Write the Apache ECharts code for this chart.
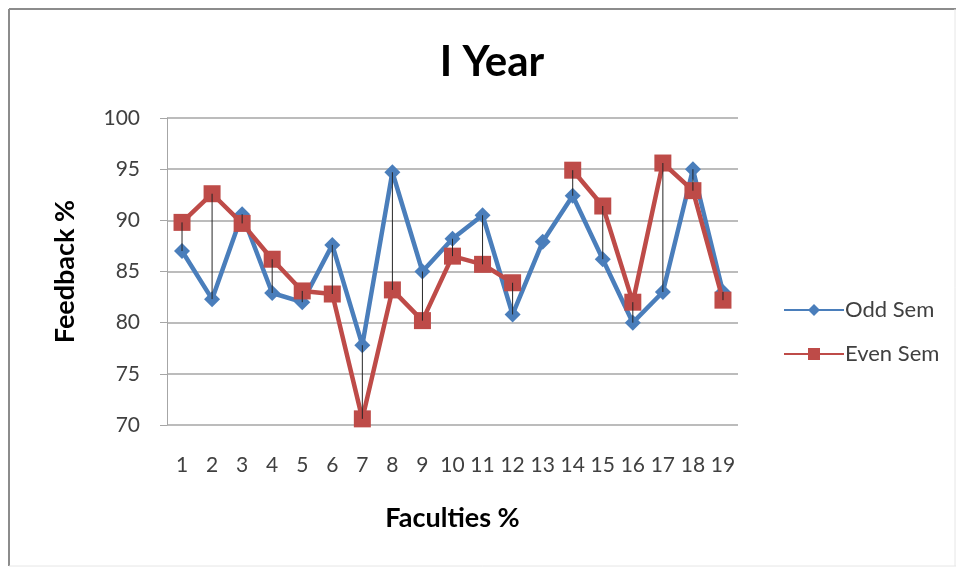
<!DOCTYPE html>
<html>
<head>
<meta charset="utf-8">
<script src="https://cdn.jsdelivr.net/npm/echarts@6/dist/echarts.min.js"></script>
<style>
  html, body { margin: 0; padding: 0; background: #ffffff; }
  #chart { width: 959px; height: 569px; }
</style>
</head>
<body>
<div id="chart"></div>
<script>
// Faculty feedback, first year: odd vs even semester
const faculties = ['1','2','3','4','5','6','7','8','9','10','11','12','13','14','15','16','17','18','19'];
const oddSem  = [87.0, 82.3, 90.6, 82.9, 82.0, 87.6, 77.8, 94.7, 85.0, 88.2, 90.5, 80.8, 87.9, 92.4, 86.2, 80.0, 83.0, 95.0, 83.0];
const evenSem = [89.8, 92.6, 89.7, 86.2, 83.1, 82.8, 70.6, 83.2, 80.2, 86.5, 85.7, 83.9, null, 94.9, 91.4, 82.0, 95.6, 92.9, 82.2];
const yTicks = { min: 70, max: 100, step: 5 };

// high-low connectors between the two semesters for each faculty
const dropLines = [];
faculties.forEach((f, i) => {
  if (oddSem[i] != null && evenSem[i] != null) dropLines.push([i, oddSem[i], evenSem[i]]);
});

const labelFont = 'Lato, "Open Sans", "Liberation Sans", sans-serif';
const chart = echarts.init(document.getElementById('chart'), null, { renderer: 'canvas' });

chart.setOption({
  backgroundColor: '#ffffff',
  animation: false,
  title: {
    text: 'I Year',
    left: 487, top: 36, textAlign: 'center',
    textStyle: { fontFamily: labelFont, fontSize: 42, fontWeight: 'bold', color: '#000000' }
  },
  legend: {
    orient: 'vertical',
    left: 778, top: 294,
    itemWidth: 60, itemHeight: 15, itemGap: 22,
    textStyle: { fontFamily: labelFont, fontSize: 22, color: '#404040', padding: [0, 0, 0, -4] },
    data: ['Odd Sem', 'Even Sem']
  },
  grid: { left: 167, right: 221, top: 118, bottom: 144 },
  xAxis: {
    type: 'category',
    data: faculties,
    boundaryGap: true,
    name: 'Faculties %',
    nameLocation: 'middle',
    nameGap: 80,
    nameTextStyle: { fontFamily: labelFont, fontSize: 27, fontWeight: 'bold', color: '#000000' },
    axisLine: { show: false },
    axisTick: { show: false },
    axisLabel: { fontFamily: labelFont, fontSize: 21, color: '#404040', margin: 30, interval: 0 }
  },
  yAxis: {
    type: 'value',
    min: yTicks.min, max: yTicks.max, interval: yTicks.step,
    name: 'Feedback %',
    nameLocation: 'middle',
    nameGap: 88,
    nameRotate: 90,
    nameTextStyle: { fontFamily: labelFont, fontSize: 27, fontWeight: 'bold', color: '#000000' },
    axisLine: { show: true, lineStyle: { color: '#a6a6a6', width: 1 } },
    axisTick: { show: true, inside: false, length: 7, lineStyle: { color: '#a6a6a6' } },
    axisLabel: { fontFamily: labelFont, fontSize: 21, color: '#404040', margin: 27 },
    splitLine: { show: true, lineStyle: { color: '#a6a6a6', width: 1.5 } }
  },
  graphic: [
    { type: 'line', shape: { x1: 9, y1: 9, x2: 956, y2: 9 }, style: { stroke: '#8c8c8c', lineWidth: 2 }, silent: true },
    { type: 'line', shape: { x1: 9, y1: 9, x2: 9, y2: 566 }, style: { stroke: '#8c8c8c', lineWidth: 2 }, silent: true },
    { type: 'line', shape: { x1: 955, y1: 9, x2: 955, y2: 566 }, style: { stroke: '#e6e6e6', lineWidth: 1 }, silent: true },
    { type: 'line', shape: { x1: 9, y1: 566, x2: 956, y2: 566 }, style: { stroke: '#e6e6e6', lineWidth: 1 }, silent: true }
  ],
  series: [
    {
      name: 'Odd Sem',
      type: 'line',
      data: oddSem,
      symbol: 'diamond',
      symbolSize: 16,
      connectNulls: false,
      itemStyle: { color: '#4a7ebb' },
      lineStyle: { color: '#4a7ebb', width: 4.5 },
      z: 2
    },
    {
      name: 'Even Sem',
      type: 'line',
      data: evenSem,
      symbol: 'rect',
      symbolSize: 17,
      connectNulls: false,
      itemStyle: { color: '#be4b48' },
      lineStyle: { color: '#be4b48', width: 4.5 },
      z: 3
    },
    {
      name: 'High-Low',
      type: 'custom',
      data: dropLines,
      encode: { x: 0, y: [1, 2] },
      z: 4,
      silent: true,
      renderItem: function (params, api) {
        const a = api.coord([api.value(0), api.value(1)]);
        const b = api.coord([api.value(0), api.value(2)]);
        return {
          type: 'line',
          shape: { x1: a[0], y1: a[1], x2: b[0], y2: b[1] },
          style: { stroke: '#262626', lineWidth: 1 }
        };
      }
    }
  ]
});
</script>
</body>
</html>
